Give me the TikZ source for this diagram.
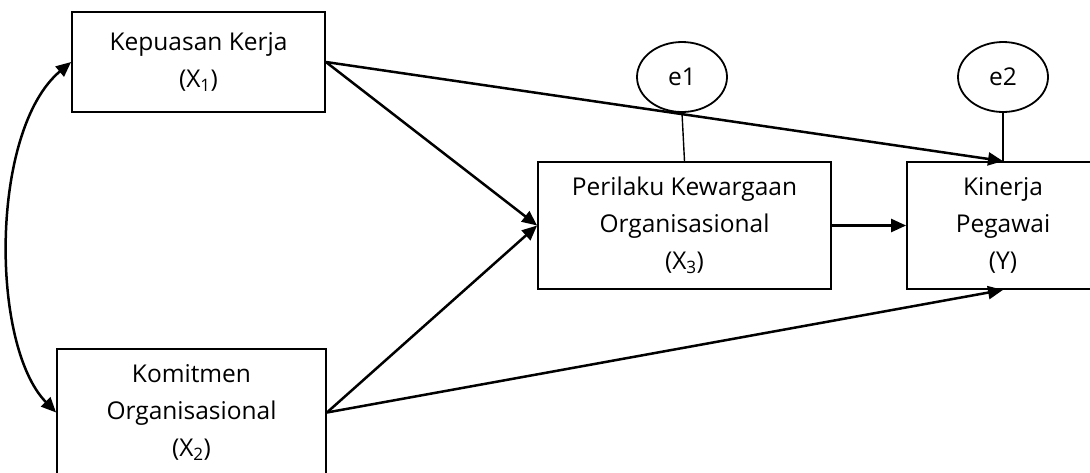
\documentclass[tikz,border=0pt]{standalone}
\usepackage{fontspec}
\setmainfont{Open Sans}
\usetikzlibrary{arrows.meta,calc,shapes.geometric}
\begin{document}
\begin{tikzpicture}[x=1pt,y=1pt,
  box/.style={draw,line width=1.8pt,rectangle,inner sep=0pt,align=center,
    font=\fontsize{24.5}{37}\selectfont},
  err/.style={draw,line width=1.8pt,ellipse,minimum width=90pt,minimum height=70pt,inner sep=0pt,
    font=\fontsize{24.5}{30}\selectfont},
  arr/.style={line width=2.5pt,-{Triangle[length=15pt,width=13pt]}},
  link/.style={line width=1.4pt}]
\useasboundingbox (0,0) rectangle (1090,-472);
\clip (0,0) rectangle (1090,-472);
\fill[white] (0,0) rectangle (1090,-472);
\node[box,minimum width=253pt,minimum height=100pt] (X1) at (198.5,-62) {Kepuasan Kerja\\(X\textsubscript{1})};
\node[box,minimum width=269pt,minimum height=127pt] (X2) at (191.5,-412.5) {Komitmen\\Organisasional\\(X\textsubscript{2})};
\node[box,minimum width=293pt,minimum height=127pt] (X3) at (684.5,-225.5) {Perilaku Kewargaan\\Organisasional\\(X\textsubscript{3})};
\node[box,minimum width=192pt,minimum height=127pt] (Y) at (1003,-225.5) {Kinerja\\Pegawai\\(Y)};
\node[err] (e1) at (682,-77) {e1};
\node[err] (e2) at (1003,-77) {e2};
\draw[link] (e1.south) -- (X3.north);
\draw[link] (e2.south) -- (Y.north);
\draw[arr] (X1.east) -- (Y.north);
\draw[arr] (X1.east) -- (X3.west);
\draw[arr] (X2.east) -- (X3.west);
\draw[arr] (X2.east) -- (Y.south);
\draw[arr] (X3.east) -- (Y.west);
\draw[line width=2.5pt,{Triangle[length=15pt,width=13pt]}-{Triangle[length=15pt,width=13pt]}]
  (X1.west) .. controls (-10,-130) and (-10,-345) .. (X2.west);
\end{tikzpicture}
\end{document}
